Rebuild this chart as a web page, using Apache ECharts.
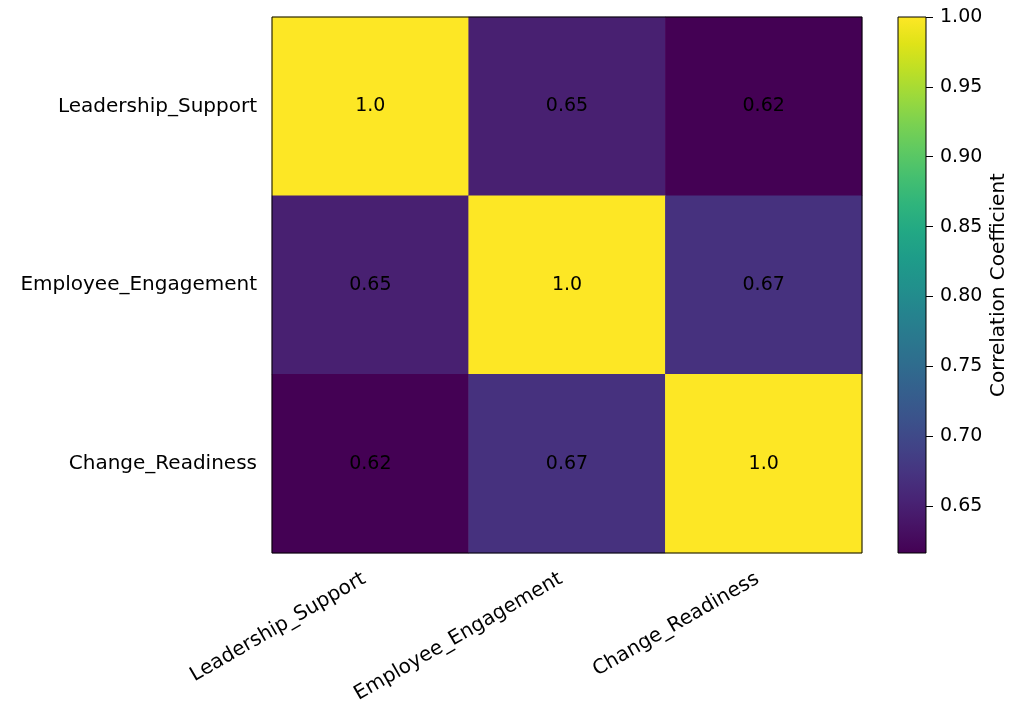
<!DOCTYPE html>
<html>
<head>
<meta charset="utf-8">
<script src="https://cdn.jsdelivr.net/npm/echarts@6/dist/echarts.min.js"></script>
<style>
  html, body { margin: 0; padding: 0; background: #fff; }
  #main { width: 1012px; height: 709px; }
</style>
</head>
<body>
<div id="main"></div>
<script>
// 变量名
var variables = ['Leadership_Support', 'Employee_Engagement', 'Change_Readiness'];
// 相关系数矩阵（按行）
var rowLeadership = [1.0, 0.65, 0.6164];
var rowEngagement = [0.65, 1.0, 0.67];
var rowReadiness = [0.6164, 0.67, 1.0];
// 色条范围和刻度
var cbMin = 0.6164;
var cbMax = 1.0;
var cbTicks = [0.65, 0.70, 0.75, 0.80, 0.85, 0.90, 0.95, 1.00];

var viridis = ['#440154', '#471365', '#482475', '#463480', '#414487', '#3b528b', '#355f8d',
  '#2f6c8e', '#2a788e', '#25848e', '#21918c', '#1e9c89', '#22a884', '#2fb47c', '#44bf70',
  '#5ec962', '#7ad151', '#9bd93c', '#bddf26', '#dfe318', '#fde725'];

var font = 'DejaVu Sans';
var fs = 20;   // 轴标签字号
var fsNum = 19; // 数字字号

var rows = [rowLeadership, rowEngagement, rowReadiness];
var heatData = [];
for (var i = 0; i < rows.length; i++) {
  for (var j = 0; j < rows[i].length; j++) {
    heatData.push([j, i, rows[i][j]]);
  }
}

var stops = [];
for (var k = 0; k < viridis.length; k++) {
  stops.push({ offset: k / (viridis.length - 1), color: viridis[k] });
}

var option = {
  animation: false,
  backgroundColor: '#fff',
  textStyle: { fontFamily: font },
  grid: [
    { left: 272, top: 17, width: 590, height: 536, show: true, borderColor: '#000', borderWidth: 1, backgroundColor: 'transparent', z: 10 },
    { left: 898, top: 17, width: 28, height: 536, show: true, borderColor: '#000', borderWidth: 1, backgroundColor: 'transparent', z: 10 }
  ],
  xAxis: [{
    type: 'category',
    gridIndex: 0,
    data: variables,
    axisLine: { show: false },
    axisTick: { alignWithLabel: true, length: 7, lineStyle: { color: '#000' } },
    axisLabel: { rotate: 30, fontSize: fs, color: '#000', fontFamily: font, margin: 21, padding: [0, 7, 0, 0] },
    splitLine: { show: false }
  }, {
    type: 'category',
    gridIndex: 1,
    data: ['cb'],
    show: false
  }],
  yAxis: [{
    type: 'category',
    gridIndex: 0,
    data: variables,
    inverse: true,
    axisLine: { show: false },
    axisTick: { alignWithLabel: true, length: 7, lineStyle: { color: '#000' } },
    axisLabel: { fontSize: fs, color: '#000', fontFamily: font, margin: 15 },
    splitLine: { show: false }
  }, {
    type: 'value',
    gridIndex: 1,
    position: 'right',
    min: cbMin,
    max: cbMax,
    axisLine: { show: false },
    axisTick: { show: true, length: 7, customValues: cbTicks, lineStyle: { color: '#000' } },
    axisLabel: {
      fontSize: fsNum, color: '#000', fontFamily: font, margin: 14,
      customValues: cbTicks,
      formatter: function (v) { return v.toFixed(2); }
    },
    splitLine: { show: false },
    name: 'Correlation Coefficient',
    nameLocation: 'middle',
    nameRotate: 90,
    nameGap: 63,
    nameTextStyle: { fontSize: fs, color: '#000', fontFamily: font }
  }],
  visualMap: {
    show: false,
    type: 'continuous',
    seriesIndex: 0,
    dimension: 2,
    min: cbMin,
    max: cbMax,
    inRange: { color: viridis }
  },
  series: [{
    type: 'heatmap',
    xAxisIndex: 0,
    yAxisIndex: 0,
    data: heatData,
    label: {
      show: true,
      fontSize: fsNum,
      color: '#000',
      fontFamily: font,
      formatter: function (p) {
        var v = p.value[2];
        return v === 1 ? '1.0' : v.toFixed(2);
      }
    }
  }, {
    // 色条底部占位
    type: 'bar',
    xAxisIndex: 1,
    yAxisIndex: 1,
    stack: 'cb',
    barWidth: '100%',
    data: [cbMin],
    itemStyle: { color: 'transparent' },
    silent: true
  }, {
    type: 'bar',
    xAxisIndex: 1,
    yAxisIndex: 1,
    stack: 'cb',
    barWidth: '100%',
    data: [cbMax - cbMin],
    itemStyle: { color: new echarts.graphic.LinearGradient(0, 1, 0, 0, stops) },
    silent: true
  }]
};

var myChart = echarts.init(document.getElementById('main'));
myChart.setOption(option);
</script>
</body>
</html>
